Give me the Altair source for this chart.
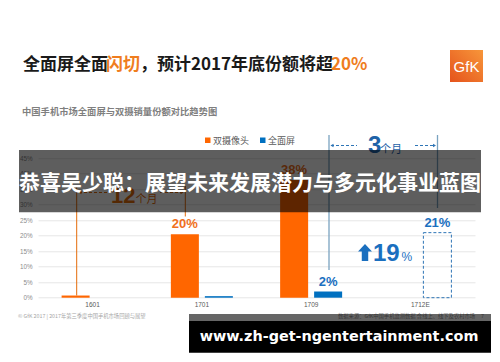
import altair as alt
import pandas as pd

# ---------------- data ----------------
categories = ["1601", "1701", "1709", "1712E"]
series_names = ["双摄像头", "全面屏"]
dual_camera = [0.7, 20.5, 38.0, None]
full_screen = [0.0, 0.5, 2.0, 21.0]
dual_labels = ["", "20%", "38%", ""]
full_labels = ["", "", "2%", "21%"]
estimate = [False, False, False, True]
y_ticks = [0, 5, 10, 15, 20, 25, 30, 35, 40, 45]

title_parts = ["全面屏全面", "闪切", "，预计2017年底份额将超", "20%"]
subtitle = "中国手机市场全面屏与双摄销量份额对比趋势图"
overlay_text = "恭喜吴少聪：展望未来发展潜力与多元化事业蓝图"
url_text = "www.zh-get-ngentertainment.com"
footer_left = "© GfK 2017 | 2017年第三季度中国手机市场回顾与展望"
footer_right = "数据来源：GfK中国手机监测数据 含线上、线下及农村市场"

rows = []
for i, c in enumerate(categories):
    rows.append(dict(period=c, series=series_names[0], share=dual_camera[i],
                     label=dual_labels[i], est=False))
    rows.append(dict(period=c, series=series_names[1], share=full_screen[i],
                     label=full_labels[i], est=estimate[i]))
df = pd.DataFrame(rows)
one = pd.DataFrame({"k": [0]})

# ---------------- geometry ----------------
PX0, PY0 = 38.0, 158.3
W, H = 437, 139.4


def px(x):
    return x - PX0


def py(y):
    return y - PY0


CJK = "Noto Sans CJK SC"
LAT = "Liberation Sans"
ORANGE = "#ff6600"
BLUE = "#0070c0"
TBLUE = "#1a6fbf"


def txt(text, x, y, size, color, weight="normal", align="left",
        baseline="middle", font=CJK):
    return alt.Chart(one).mark_text(
        text=text, fontSize=size, color=color, fontWeight=weight,
        align=align, baseline=baseline, font=font
    ).encode(x=alt.value(px(x)), y=alt.value(py(y)))


def rule(x1, y1, x2, y2, color, width=1.0, dash=None):
    kw = dict(color=color, strokeWidth=width)
    if dash:
        kw["strokeDash"] = dash
    return alt.Chart(one).mark_rule(**kw).encode(
        x=alt.value(px(x1)), y=alt.value(py(y1)),
        x2=alt.value(px(x2)), y2=alt.value(py(y2)))


def rect(x1, y1, x2, y2, color, opacity=1.0):
    return alt.Chart(one).mark_rect(color=color, opacity=opacity).encode(
        x=alt.value(px(x1)), y=alt.value(py(y1)),
        x2=alt.value(px(x2)), y2=alt.value(py(y2)))


def head(x, y, shape, color, size=14):
    return alt.Chart(one).mark_point(shape=shape, filled=True, size=size,
                                     color=color, opacity=1).encode(
        x=alt.value(px(x)), y=alt.value(py(y)))


# ---------------- bars ----------------
xenc = alt.X("period:N", sort=categories,
             scale=alt.Scale(domain=categories, paddingInner=0.4325,
                             paddingOuter=0.216),
             axis=alt.Axis(title=None, labelAngle=0, labelFontSize=6.5,
                           labelColor="#595959", ticks=False, domain=False,
                           labelPadding=4, grid=False, labelFont=LAT))
xoff = alt.XOffset("series:N", sort=series_names,
                   scale=alt.Scale(domain=series_names, paddingInner=0.176,
                                   paddingOuter=0))
yenc = alt.Y("share:Q", stack=None,
             scale=alt.Scale(domain=[0, 45], nice=False, zero=True),
             axis=alt.Axis(title=None, values=y_ticks,
                           labelExpr="datum.value + '%'", labelFontSize=6.3,
                           labelColor="#8c8c8c", ticks=False, domain=False,
                           gridColor="#e6e6e6", labelPadding=6, labelFont=LAT))

base = alt.Chart(df)
solid = base.transform_filter("datum.est == false && isValid(datum.share)").mark_bar().encode(
    x=xenc, xOffset=xoff, y=yenc,
    color=alt.Color("series:N", scale=alt.Scale(domain=series_names,
                                                range=[ORANGE, BLUE]),
                    legend=None))
dashed = base.transform_filter("datum.est == true").mark_bar(
    fill="#ffffff", fillOpacity=0, stroke="#2e75b6", strokeWidth=1,
    strokeDash=[3, 2]).encode(x=xenc, xOffset=xoff, y=yenc)
labels = base.transform_filter("datum.label != ''").mark_text(
    dy=-10, fontSize=13, fontWeight="bold", font=LAT).encode(
    x=xenc, xOffset=xoff, y=yenc, text="label:N",
    color=alt.condition("datum.series == '双摄像头'", alt.value("#f07020"),
                        alt.value(TBLUE)))

layers = [solid, dashed, labels]

# ---------------- 12 months bracket ----------------
OC = "#e46c0a"
layers += [
    rule(76.7, 295.5, 76.7, 186, OC),
    rule(185.3, 186, 185.3, 216.5, OC),
    rule(79, 192.5, 107, 192.5, OC, 1, [3, 2]),
    rule(160, 192.5, 183, 192.5, OC, 1, [3, 2]),
    head(80, 192.5, "triangle-left", OC, 12),
    head(182, 192.5, "triangle-right", OC, 12),
    txt("12", 111, 203, 22, OC, "bold", baseline="alphabetic", font=LAT),
    txt("个月", 135.5, 202.5, 11, OC, baseline="alphabetic"),
]

# ---------------- 3 months bracket ----------------
VC = "#7aa3c0"
layers += [
    rule(329, 135, 329, 270, VC, 1.3),
    rule(437.5, 135, 437.5, 208, VC, 1.3),
    rule(331, 145.5, 357, 145.5, "#2e75b6", 1, [3, 2]),
    rule(415, 145.5, 435, 145.5, "#2e75b6", 1, [3, 2]),
    head(332, 145.5, "triangle-left", "#2e75b6", 12),
    head(434.5, 145.5, "triangle-right", "#2e75b6", 12),
    txt("3", 368, 153, 24, "#1f63a8", "bold", baseline="alphabetic", font=LAT),
    txt("个月", 380, 153, 11, "#1f63a8", baseline="alphabetic"),
]

# ---------------- up arrow 19% ----------------
arrow_path = "M0,-1 L0.82,-0.1 L0.38,-0.1 L0.38,1 L-0.38,1 L-0.38,-0.1 L-0.82,-0.1 Z"
layers += [
    alt.Chart(one).mark_point(shape=arrow_path, filled=True, size=289,
                              color=TBLUE, opacity=1).encode(
        x=alt.value(px(365)), y=alt.value(py(252.4))),
    txt("19", 373, 261, 24, TBLUE, "bold", baseline="alphabetic", font=LAT),
    txt("%", 401.5, 261, 12, TBLUE, baseline="alphabetic", font=LAT),
]

# ---------------- title, subtitle, logo, legend ----------------
TO = "#ef7d1e"
layers += [
    txt(title_parts[0], 23, 65, 17, "#1a1a1a", "bold"),
    txt(title_parts[1], 106, 65, 17, TO, "bold"),
    txt(title_parts[2], 140, 65, 17, "#1a1a1a", "bold"),
    txt(title_parts[3], 331, 65, 17, TO, "bold"),
    txt(subtitle, 22, 112, 9.3, "#7f7f7f", "bold"),
    alt.Chart(one).mark_rect(
        color=alt.Gradient(gradient="linear",
                           stops=[alt.GradientStop(color="#f7963a", offset=0),
                                  alt.GradientStop(color="#e5531c", offset=1)],
                           x1=1, x2=0, y1=0, y2=1)).encode(
        x=alt.value(px(450)), y=alt.value(py(50)),
        x2=alt.value(px(483)), y2=alt.value(py(82))),
    txt("GfK", 466.5, 66.5, 15, "#ffffff", align="center", font=LAT),
    rect(205, 137.5, 210.5, 143, ORANGE),
    txt(series_names[0], 213, 140.5, 9, "#595959"),
    rect(260, 137.5, 265.5, 143, BLUE),
    txt(series_names[1], 268, 140.5, 9, "#595959"),
]

# ---------------- footer ----------------
layers += [
    txt(footer_left, 18, 316, 5.3, "#a6a6a6"),
    txt(footer_right, 338, 316, 5.3, "#8c8c8c"),
    txt("7", 481, 316, 5.3, "#8c8c8c", font=LAT),
]

# ---------------- overlays ----------------
layers += [
    rect(19, 150, 481, 212.3, "#000000", 0.63),
    txt(overlay_text, 250, 183.5, 21, "#ffffff", "bold", align="center"),
    rect(189, 314, 491, 321, "#000000", 0.6),
    rect(189, 321, 491, 352.7, "#000000", 1.0),
    txt(url_text, 339, 337, 14.4, "#ffffff", "bold", align="center",
        font="DejaVu Sans"),
]

chart = alt.layer(*layers).properties(
    width=W, height=H,
    autosize=alt.AutoSizeParams(type="none"),
    padding={"left": PX0 - 8, "top": PY0 - 8, "right": 484 - (PX0 - 8) - W,
             "bottom": 346 - (PY0 - 8) - H},
    background="#ffffff",
).configure_view(stroke=None)

chart.save("out.html", embed_options={"renderer": "svg", "actions": False})
